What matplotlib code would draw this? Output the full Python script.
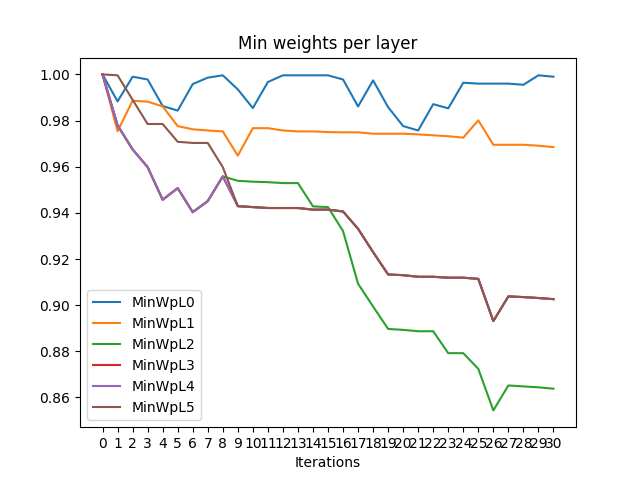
import numpy as np
import matplotlib
matplotlib.use("Agg")
from matplotlib import pyplot as plt

iterations = list(range(31))

# min weight of each layer per iteration
min_wpl0 = [1.0, 0.9883, 0.9990, 0.9978, 0.9863, 0.9843, 0.9958, 0.9986, 0.9996, 0.9935,
            0.9854, 0.9967, 0.9996, 0.9996, 0.9996, 0.9996, 0.9978, 0.9861, 0.9974, 0.9858,
            0.9776, 0.9757, 0.9871, 0.9853, 0.9964, 0.9960, 0.9960, 0.9960, 0.9955, 0.9996, 0.9990]
min_wpl1 = [1.0, 0.9754, 0.9886, 0.9882, 0.9861, 0.9776, 0.9762, 0.9757, 0.9753, 0.9648,
            0.9767, 0.9767, 0.9757, 0.9753, 0.9753, 0.9750, 0.9749, 0.9749, 0.9743, 0.9743,
            0.9743, 0.9740, 0.9736, 0.9732, 0.9726, 0.9801, 0.9695, 0.9695, 0.9695, 0.9691, 0.9685]
min_wpl2 = [1.0, 0.9779, 0.9675, 0.9598, 0.9457, 0.9507, 0.9403, 0.9451, 0.9558, 0.9539,
            0.9535, 0.9533, 0.9529, 0.9529, 0.9428, 0.9425, 0.9321, 0.9093, 0.8994, 0.8897,
            0.8893, 0.8887, 0.8887, 0.8792, 0.8792, 0.8724, 0.8544, 0.8652, 0.8648, 0.8644, 0.8638]
min_wpl3 = [1.0, 0.9779, 0.9675, 0.9598, 0.9457, 0.9507, 0.9403, 0.9451, 0.9558, 0.9429,
            0.9425, 0.9421, 0.9421, 0.9421, 0.9414, 0.9414, 0.9406, 0.9331, 0.9230, 0.9133,
            0.9130, 0.9123, 0.9123, 0.9119, 0.9119, 0.9114, 0.8931, 0.9038, 0.9035, 0.9031, 0.9026]
min_wpl4 = [1.0, 0.9779, 0.9675, 0.9598, 0.9457, 0.9507, 0.9403, 0.9451, 0.9558, 0.9429,
            0.9425, 0.9421, 0.9421, 0.9421, 0.9414, 0.9414, 0.9406, 0.9331, 0.9230, 0.9133,
            0.9130, 0.9123, 0.9123, 0.9119, 0.9119, 0.9114, 0.8931, 0.9038, 0.9035, 0.9031, 0.9026]
min_wpl5 = [1.0, 0.9996, 0.9890, 0.9785, 0.9785, 0.9708, 0.9703, 0.9703, 0.9598, 0.9429,
            0.9425, 0.9421, 0.9421, 0.9421, 0.9414, 0.9414, 0.9406, 0.9331, 0.9230, 0.9133,
            0.9130, 0.9123, 0.9123, 0.9119, 0.9119, 0.9114, 0.8931, 0.9038, 0.9035, 0.9031, 0.9026]

series = [min_wpl0, min_wpl1, min_wpl2, min_wpl3, min_wpl4, min_wpl5]

plt.figure(figsize=(6.4, 4.8), dpi=100)
for i, s in enumerate(series):
    plt.plot(iterations, s, label="MinWpL%d" % i)
plt.title("Min weights per layer")
plt.xlabel("Iterations")
plt.xticks(iterations)
plt.legend(loc="lower left")
plt.savefig("out.png")
